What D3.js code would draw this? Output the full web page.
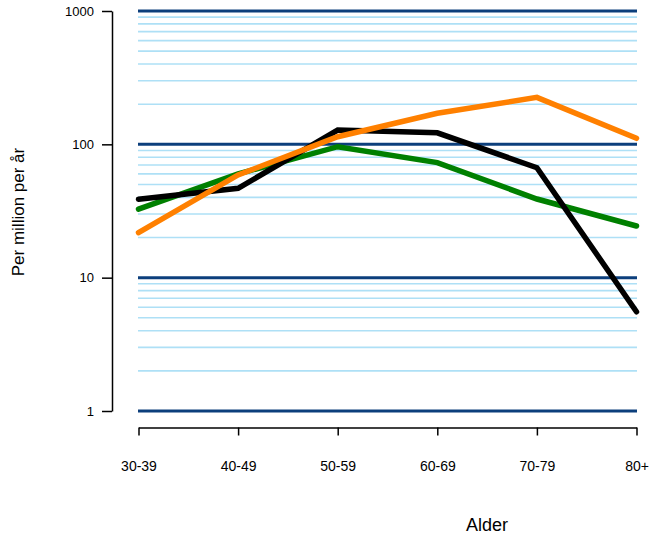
<!DOCTYPE html>
<html><head><meta charset="utf-8">
<script src="https://cdn.jsdelivr.net/npm/d3@7"></script>
<style>body{margin:0;background:#fff}svg{display:block}text{font-family:"Liberation Sans",Arial,sans-serif;fill:#000}</style>
</head><body><svg id="c" width="649" height="535"></svg>
<script>
const categories = ["30-39","40-49","50-59","60-69","70-79","80+"];
const blackSeries = [38.7, 46.8, 128, 122, 66.8, 5.55];
const greenSeries = [32.7, 60, 96, 72.9, 38.9, 24.4];
const orangeSeries = [21.8, 58.9, 114, 171, 225, 111];
const yTicks = [1, 10, 100, 1000];
const yTickLabels = ["1", "10", "100", "1000"];
const xTitle = "Alder";
const yTitle = "Per million per år";

const svg = d3.select("#c");
const x = d3.scalePoint().domain(categories).range([138.5, 636.5]);
const y = d3.scaleLog().domain([1, 1000]).range([411, 11]);

// minor grid
const minor = [];
[1, 10, 100].forEach(d => { for (let k = 2; k <= 9; k++) minor.push(d * k); });
svg.append("g").selectAll("line").data(minor).join("line")
  .attr("x1", 138).attr("x2", 637)
  .attr("y1", d => y(d)).attr("y2", d => y(d))
  .attr("stroke", "#aee0f6").attr("stroke-width", 1.6);
svg.append("g").selectAll("line").data(yTicks).join("line")
  .attr("x1", 138).attr("x2", 637)
  .attr("y1", d => y(d)).attr("y2", d => y(d))
  .attr("stroke", "#0c3f7c").attr("stroke-width", 3);

// y axis
const yAxis = svg.append("g").attr("transform", "translate(112,0)")
  .call(d3.axisLeft(y).tickValues(yTicks).tickFormat((d, i) => yTickLabels[i]).tickSize(10).tickSizeOuter(0).tickPadding(8));
yAxis.select(".domain").attr("stroke", "#000").attr("stroke-width", 1.5);
yAxis.selectAll(".tick line").attr("stroke", "#000").attr("stroke-width", 1.5);
yAxis.selectAll("text").style("font-size", "13px").attr("fill", "#000");

// x axis
const xAxis = svg.append("g").attr("transform", "translate(0,427.5)")
  .call(d3.axisBottom(x).tickSize(8).tickSizeOuter(0).tickPadding(26));
xAxis.select(".domain").attr("stroke", "#000").attr("stroke-width", 1.5);
xAxis.selectAll(".tick line").attr("stroke", "#000").attr("stroke-width", 1.5);
xAxis.selectAll("text").style("font-size", "14px").attr("fill", "#000");

// lines
const line = d3.line().x((d, i) => x(categories[i])).y(d => y(d));
[[greenSeries, "#008000"], [blackSeries, "#000000"], [orangeSeries, "#ff8000"]].forEach(([s, c]) => {
  svg.append("path").datum(s).attr("d", line).attr("fill", "none")
    .attr("stroke", c).attr("stroke-width", 5.5).attr("stroke-linejoin", "miter").attr("stroke-linecap", "round");
});

svg.append("text").attr("x", 487).attr("y", 531).attr("text-anchor", "middle").style("font-size", "18px").text(xTitle);
svg.append("text").attr("transform", "translate(24,212) rotate(-90)").attr("text-anchor", "middle").style("font-size", "17px").text(yTitle);
</script></body></html>
